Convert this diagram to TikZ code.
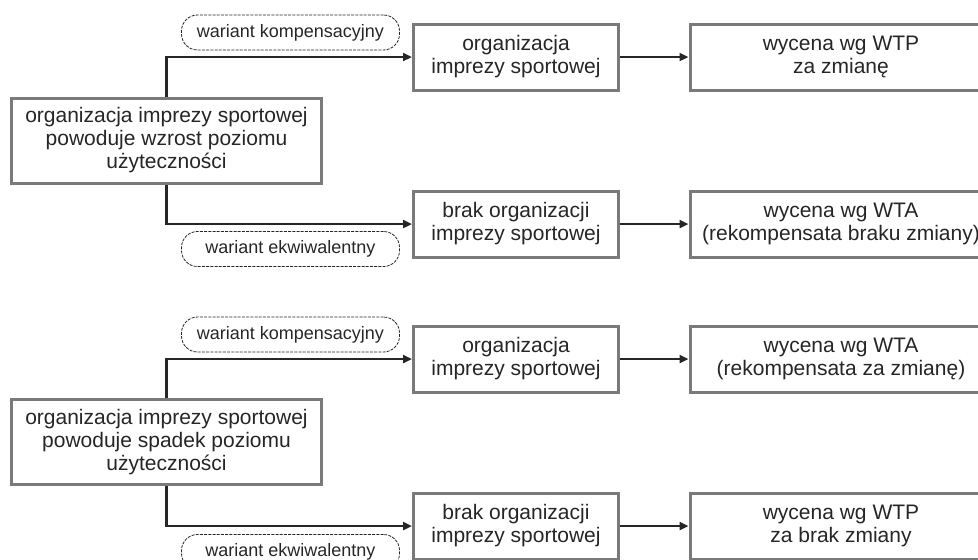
\documentclass[tikz,border=0pt]{standalone}
\usepackage{fontspec}
\setmainfont{Liberation Sans}
\usetikzlibrary{arrows.meta}
\definecolor{boxgrey}{HTML}{7A7A7A}
\definecolor{ink}{HTML}{262626}
\begin{document}
\begin{tikzpicture}[x=1pt,y=-1pt,
  every node/.style={text=ink},
  boxbase/.style={draw=boxgrey, line width=3pt, fill=white, align=center,
    inner sep=0pt, font=\fontsize{21}{23}\selectfont},
  srcbox/.style={boxbase, minimum width=310pt, minimum height=85pt},
  midbox/.style={boxbase, minimum width=205pt, minimum height=66pt},
  resbox/.style={boxbase, minimum width=302pt, minimum height=66pt},
  variant/.style={draw=ink, line width=0.8pt, dash pattern=on 3pt off 1.2pt,
    rounded corners=16pt, minimum width=218pt, minimum height=35pt,
    inner sep=0pt, font=\fontsize{18}{20}\selectfont},
  flow/.style={draw=ink, line width=2.5pt, -{Triangle[length=9pt,width=8pt]}}
]
\useasboundingbox (0,0) rectangle (978,560);
\clip (0,0) rectangle (978,560);

% ---- utility increases ----
\node[srcbox] (srcA) at (166.5,140.5)
  {organizacja imprezy sportowej\\powoduje wzrost poziomu\\użyteczności};
\node[midbox] (midA1) at (516,57) {organizacja\\imprezy sportowej};
\node[midbox] (midA2) at (516,224) {brak organizacji\\imprezy sportowej};
\node[resbox] (resA1) at (841,57) {wycena wg WTP\\za zmianę};
\node[resbox] (resA2) at (841,224) {wycena wg WTA\\(rekompensata braku zmiany)};
\node[variant] (varA1) at (290.5,32.5) {wariant kompensacyjny};
\node[variant] (varA2) at (290.5,249) {wariant ekwiwalentny};

\draw[flow] (srcA.north) |- (midA1.west);
\draw[flow] (srcA.south) |- (midA2.west);
\draw[flow] (midA1) -- (resA1);
\draw[flow] (midA2) -- (resA2);

% ---- utility decreases ----
\node[srcbox] (srcB) at (166.5,442)
  {organizacja imprezy sportowej\\powoduje spadek poziomu\\użyteczności};
\node[midbox] (midB1) at (516,359) {organizacja\\imprezy sportowej};
\node[midbox] (midB2) at (516,526) {brak organizacji\\imprezy sportowej};
\node[resbox] (resB1) at (841,359) {wycena wg WTA\\(rekompensata za zmianę)};
\node[resbox] (resB2) at (841,526) {wycena wg WTP\\za brak zmiany};
\node[variant] (varB1) at (290.5,334.5) {wariant kompensacyjny};
\node[variant] (varB2) at (290.5,552) {wariant ekwiwalentny};

\draw[flow] (srcB.north) |- (midB1.west);
\draw[flow] (srcB.south) |- (midB2.west);
\draw[flow] (midB1) -- (resB1);
\draw[flow] (midB2) -- (resB2);
\end{tikzpicture}
\end{document}
